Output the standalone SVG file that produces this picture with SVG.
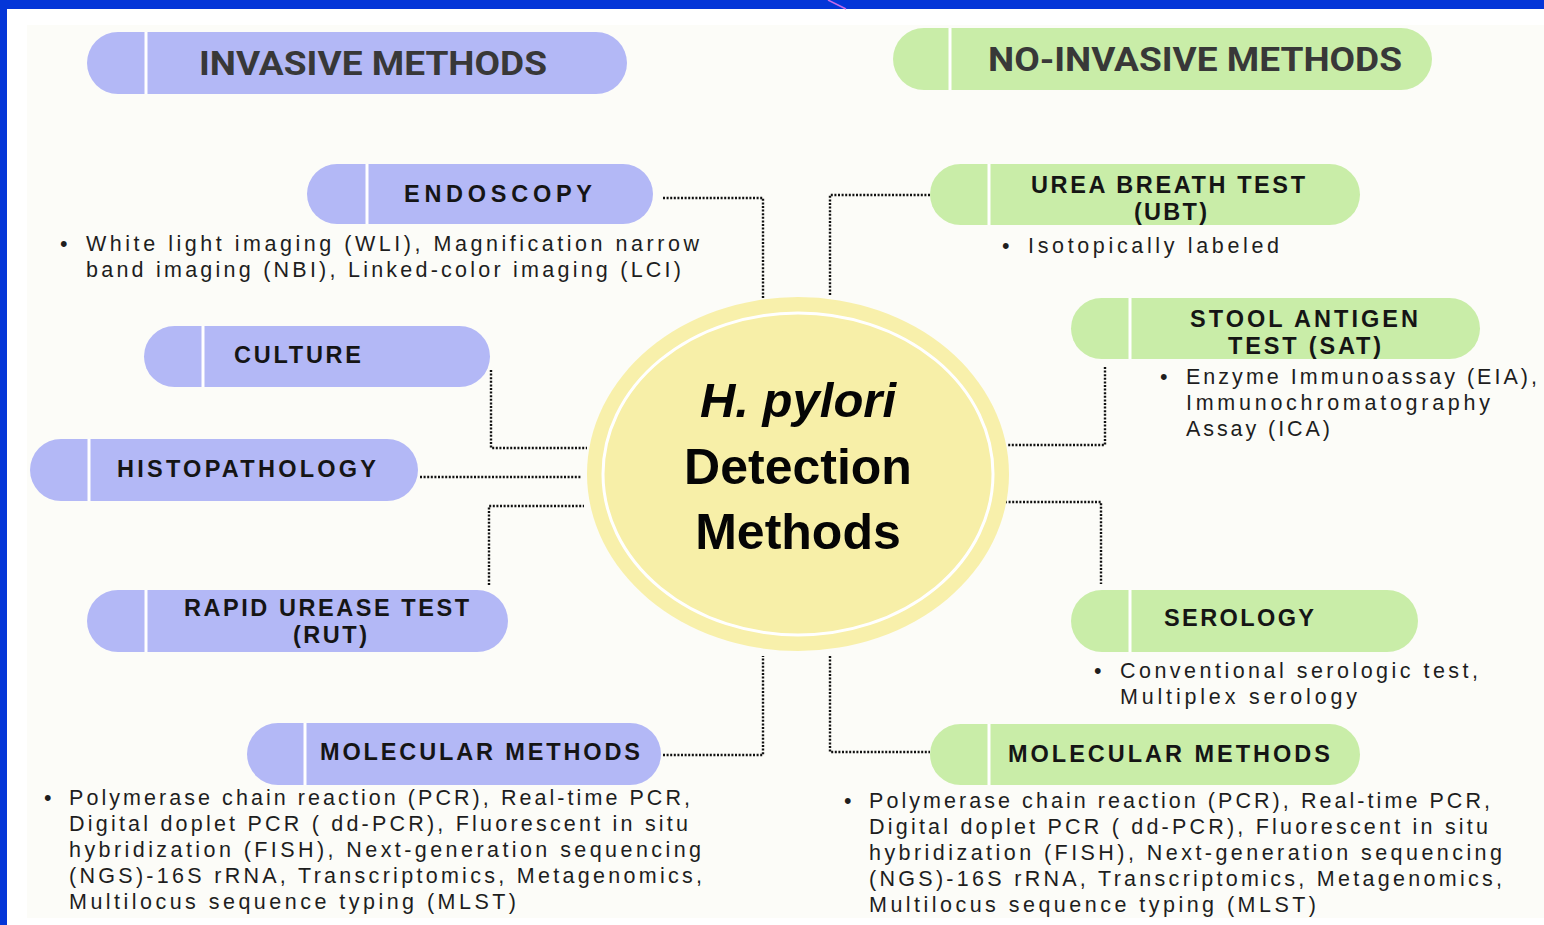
<svg xmlns="http://www.w3.org/2000/svg" width="1544" height="925" viewBox="0 0 1544 925">
<defs>
<style>
.inv{fill:#b3b8f6}
.non{fill:#c9eda8}
.div{stroke:#ffffff;stroke-width:3}
.hdr{font-family:Roboto,"Liberation Sans",sans-serif;font-weight:bold;font-size:34px;fill:#383838;text-anchor:start}
.lbl{font-family:"Liberation Sans",Arial,sans-serif;font-weight:bold;font-size:23.5px;fill:#151515}
.dsc{font-family:"Liberation Sans",Arial,sans-serif;font-size:21.5px;fill:#1e1e1e}
.ctr{font-family:"Liberation Sans",Arial,sans-serif;font-weight:bold;fill:#050505;text-anchor:middle}
.con{fill:none;stroke:#111111;stroke-width:2.4;stroke-dasharray:2 1.6}
</style>
</defs>
<rect x="0" y="0" width="1544" height="925" fill="#ffffff"/>
<rect x="27" y="25" width="1517" height="893" fill="#fcfcf8"/>
<rect x="0" y="0" width="1544" height="9" fill="#0436d8"/>
<rect x="0" y="0" width="7" height="925" fill="#0436d8"/>
<line x1="828" y1="0" x2="846" y2="9" stroke="#c46be8" stroke-width="1.5"/>

<g id="connectors">
<polyline class="con" points="663,198 763,198 763,298"/>
<polyline class="con" points="491,370 491,448 587,448"/>
<polyline class="con" points="420,477 582,477"/>
<polyline class="con" points="489,585 489,506 584,506"/>
<polyline class="con" points="663,755 763,755 763,656"/>
<polyline class="con" points="930,195 830,195 830,296"/>
<polyline class="con" points="1105,367 1105,445 1008,445"/>
<polyline class="con" points="1005,502 1101,502 1101,584"/>
<polyline class="con" points="830,656 830,752 930,752"/>
</g>

<g id="center">
<ellipse cx="798" cy="474" rx="211" ry="177" fill="#f8f0ab"/>
<ellipse cx="798" cy="474" rx="195" ry="161" fill="#f7efa8" stroke="#ffffff" stroke-width="3"/>
<text class="ctr" x="798" y="417" font-size="49" font-style="italic">H. pylori</text>
<text class="ctr" x="798" y="484" font-size="50">Detection</text>
<text class="ctr" x="798" y="549" font-size="50">Methods</text>
</g>

<g id="invasive-header">
<rect class="inv" x="87" y="32" width="540" height="62" rx="31"/>
<line class="div" x1="146" y1="32" x2="146" y2="94"/>
<text class="hdr" x="199" y="75" textLength="348" lengthAdjust="spacingAndGlyphs">INVASIVE METHODS</text>
</g>

<g id="noninvasive-header">
<rect class="non" x="893" y="28" width="539" height="62" rx="31"/>
<line class="div" x1="950" y1="28" x2="950" y2="90"/>
<text class="hdr" x="988" y="71" textLength="414" lengthAdjust="spacingAndGlyphs">NO-INVASIVE METHODS</text>
</g>

<g id="endoscopy">
<rect class="inv" x="307" y="164" width="346" height="60" rx="30"/>
<line class="div" x1="367" y1="164" x2="367" y2="224"/>
<text class="lbl" x="404" y="202" textLength="188" lengthAdjust="spacing">ENDOSCOPY</text>
<text class="dsc" x="60" y="251">•</text>
<text class="dsc" x="86" y="251" textLength="613" lengthAdjust="spacing">White light imaging (WLI), Magnification narrow</text>
<text class="dsc" x="86" y="277" textLength="595" lengthAdjust="spacing">band imaging (NBI), Linked-color imaging (LCI)</text>
</g>

<g id="culture">
<rect class="inv" x="144" y="326" width="346" height="61" rx="30.5"/>
<line class="div" x1="203" y1="326" x2="203" y2="387"/>
<text class="lbl" x="234" y="363" textLength="127" lengthAdjust="spacing">CULTURE</text>
</g>

<g id="histopathology">
<rect class="inv" x="30" y="439" width="388" height="62" rx="31"/>
<line class="div" x1="89" y1="439" x2="89" y2="501"/>
<text class="lbl" x="117" y="477" textLength="259" lengthAdjust="spacing">HISTOPATHOLOGY</text>
</g>

<g id="rut">
<rect class="inv" x="87" y="590" width="421" height="62" rx="31"/>
<line class="div" x1="146" y1="590" x2="146" y2="652"/>
<text class="lbl" x="184" y="616" textLength="285" lengthAdjust="spacing">RAPID UREASE TEST</text>
<text class="lbl" x="293" y="643" textLength="74" lengthAdjust="spacing">(RUT)</text>
</g>

<g id="molecular-left">
<rect class="inv" x="247" y="723" width="414" height="62" rx="31"/>
<line class="div" x1="305" y1="723" x2="305" y2="785"/>
<text class="lbl" x="320" y="760" textLength="320" lengthAdjust="spacing">MOLECULAR METHODS</text>
<text class="dsc" x="44" y="805">•</text>
<text class="dsc" x="69" y="805" textLength="621" lengthAdjust="spacing">Polymerase chain reaction (PCR), Real-time PCR,</text>
<text class="dsc" x="69" y="831" textLength="619" lengthAdjust="spacing">Digital doplet PCR ( dd-PCR), Fluorescent in situ</text>
<text class="dsc" x="69" y="857" textLength="632" lengthAdjust="spacing">hybridization (FISH), Next-generation sequencing</text>
<text class="dsc" x="69" y="883" textLength="633" lengthAdjust="spacing">(NGS)-16S rRNA, Transcriptomics, Metagenomics,</text>
<text class="dsc" x="69" y="909" textLength="447" lengthAdjust="spacing">Multilocus sequence typing (MLST)</text>
</g>

<g id="ubt">
<rect class="non" x="930" y="164" width="430" height="61" rx="30.5"/>
<line class="div" x1="989" y1="164" x2="989" y2="225"/>
<text class="lbl" x="1031" y="193" textLength="274" lengthAdjust="spacing">UREA BREATH TEST</text>
<text class="lbl" x="1134" y="220" textLength="73" lengthAdjust="spacing">(UBT)</text>
<text class="dsc" x="1002" y="253">•</text>
<text class="dsc" x="1028" y="253" textLength="251" lengthAdjust="spacing">Isotopically labeled</text>
</g>

<g id="sat">
<rect class="non" x="1071" y="298" width="409" height="61" rx="30.5"/>
<line class="div" x1="1130" y1="298" x2="1130" y2="359"/>
<text class="lbl" x="1190" y="327" textLength="228" lengthAdjust="spacing">STOOL ANTIGEN</text>
<text class="lbl" x="1228" y="354" textLength="153" lengthAdjust="spacing">TEST (SAT)</text>
<text class="dsc" x="1160" y="384">•</text>
<text class="dsc" x="1186" y="384" textLength="351" lengthAdjust="spacing">Enzyme Immunoassay (EIA),</text>
<text class="dsc" x="1186" y="410" textLength="304" lengthAdjust="spacing">Immunochromatography</text>
<text class="dsc" x="1186" y="436" textLength="144" lengthAdjust="spacing">Assay (ICA)</text>
</g>

<g id="serology">
<rect class="non" x="1071" y="590" width="347" height="62" rx="31"/>
<line class="div" x1="1130" y1="590" x2="1130" y2="652"/>
<text class="lbl" x="1164" y="626" textLength="150" lengthAdjust="spacing">SEROLOGY</text>
<text class="dsc" x="1094" y="678">•</text>
<text class="dsc" x="1120" y="678" textLength="358" lengthAdjust="spacing">Conventional serologic test,</text>
<text class="dsc" x="1120" y="704" textLength="237" lengthAdjust="spacing">Multiplex serology</text>
</g>

<g id="molecular-right">
<rect class="non" x="930" y="724" width="430" height="61" rx="30.5"/>
<line class="div" x1="989" y1="724" x2="989" y2="785"/>
<text class="lbl" x="1008" y="762" textLength="322" lengthAdjust="spacing">MOLECULAR METHODS</text>
<text class="dsc" x="844" y="808">•</text>
<text class="dsc" x="869" y="808" textLength="621" lengthAdjust="spacing">Polymerase chain reaction (PCR), Real-time PCR,</text>
<text class="dsc" x="869" y="834" textLength="619" lengthAdjust="spacing">Digital doplet PCR ( dd-PCR), Fluorescent in situ</text>
<text class="dsc" x="869" y="860" textLength="633" lengthAdjust="spacing">hybridization (FISH), Next-generation sequencing</text>
<text class="dsc" x="869" y="886" textLength="633" lengthAdjust="spacing">(NGS)-16S rRNA, Transcriptomics, Metagenomics,</text>
<text class="dsc" x="869" y="912" textLength="447" lengthAdjust="spacing">Multilocus sequence typing (MLST)</text>
</g>
</svg>
